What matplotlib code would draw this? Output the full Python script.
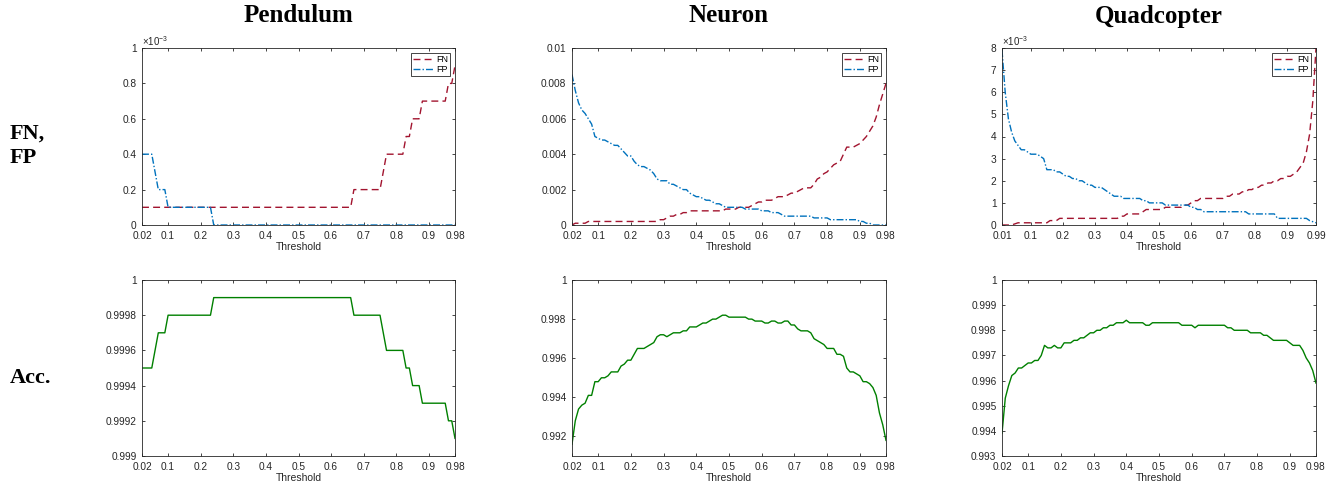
import numpy as np
import matplotlib
matplotlib.use('Agg')
import matplotlib.pyplot as plt
from matplotlib.ticker import FuncFormatter

plt.rcParams['font.family'] = ['Liberation Sans', 'DejaVu Sans']
plt.rcParams['mathtext.default'] = 'regular'

# threshold grids
thr = np.round(np.arange(2, 99) / 100, 2)            # 0.02 .. 0.98
thr_quad_top = np.round(np.arange(1, 100) / 100, 2)  # 0.01 .. 0.99

# ---- Pendulum (FN / FP in units of 1e-3) ----
pend_fn = [0.1] * 65 + [0.2] * 9 + [0.3] + [0.4] * 6 + [0.5] * 2 + [0.6] * 3 + [0.7] * 8 + [0.8] * 2 + [0.9]
pend_fp = [0.4] * 4 + [0.3] + [0.2] * 3 + [0.1] * 14 + [0.0] * 75
pend_acc = ([0.9995] * 4 + [0.9996] + [0.9997] * 3 + [0.9998] * 14 + [0.9999] * 43 + [0.9998] * 9
            + [0.9997] + [0.9996] * 6 + [0.9995] * 2 + [0.9994] * 3 + [0.9993] * 8 + [0.9992] * 2 + [0.9991])

# ---- Neuron ----
neur_fn = [0.0, 0.1, 0.1, 0.1, 0.1, 0.2, 0.2, 0.2, 0.2, 0.2,
           0.2, 0.2, 0.2, 0.2, 0.2, 0.2, 0.2, 0.2, 0.2, 0.2,
           0.2, 0.2, 0.2, 0.2, 0.2, 0.2, 0.2, 0.3, 0.3, 0.4,
           0.5, 0.5, 0.6, 0.6, 0.7, 0.7, 0.8, 0.8, 0.8, 0.8,
           0.8, 0.8, 0.8, 0.8, 0.8, 0.8, 0.8, 0.9, 0.9, 0.9,
           0.9, 1.0, 1.0, 1.0, 1.0, 1.1, 1.2, 1.3, 1.3, 1.4,
           1.4, 1.4, 1.5, 1.6, 1.6, 1.6, 1.7, 1.8, 1.8, 1.9,
           2.0, 2.1, 2.1, 2.1, 2.3, 2.6, 2.7, 2.9, 3.0, 3.2,
           3.4, 3.5, 3.6, 4.0, 4.4, 4.4, 4.4, 4.5, 4.6, 4.8,
           5.0, 5.3, 5.6, 6.1, 6.8, 7.4, 8.0]
neur_fp = [8.5, 7.6, 6.9, 6.5, 6.3, 6.0, 5.7, 5.0, 4.9, 4.8,
           4.8, 4.7, 4.6, 4.5, 4.5, 4.3, 4.1, 3.9, 3.9, 3.6,
           3.4, 3.3, 3.3, 3.2, 3.1, 2.9, 2.6, 2.5, 2.5, 2.5,
           2.3, 2.3, 2.2, 2.1, 2.0, 2.0, 1.8, 1.7, 1.6, 1.6,
           1.5, 1.4, 1.4, 1.3, 1.2, 1.2, 1.1, 1.0, 1.0, 1.0,
           1.0, 1.0, 1.0, 0.9, 0.9, 0.9, 0.9, 0.9, 0.8, 0.8,
           0.8, 0.7, 0.7, 0.7, 0.6, 0.5, 0.5, 0.5, 0.5, 0.5,
           0.5, 0.5, 0.5, 0.5, 0.4, 0.4, 0.4, 0.4, 0.4, 0.3,
           0.3, 0.3, 0.3, 0.3, 0.3, 0.3, 0.3, 0.3, 0.2, 0.2,
           0.1, 0.1, 0.0, 0.0, 0.0, 0.0, 0.0]
neur_acc = [0.9916, 0.9928, 0.9934, 0.9936, 0.9937, 0.9941, 0.9941, 0.9948, 0.9948, 0.9950,
            0.9950, 0.9951, 0.9953, 0.9953, 0.9953, 0.9956, 0.9957, 0.9959, 0.9959, 0.9962,
            0.9965, 0.9965, 0.9965, 0.9966, 0.9967, 0.9968, 0.9971, 0.9972, 0.9972, 0.9971,
            0.9972, 0.9973, 0.9973, 0.9973, 0.9974, 0.9974, 0.9976, 0.9976, 0.9976, 0.9977,
            0.9978, 0.9978, 0.9979, 0.9980, 0.9980, 0.9981, 0.9982, 0.9982, 0.9981, 0.9981,
            0.9981, 0.9981, 0.9981, 0.9981, 0.9980, 0.9980, 0.9979, 0.9979, 0.9979, 0.9978,
            0.9978, 0.9979, 0.9979, 0.9978, 0.9978, 0.9979, 0.9979, 0.9977, 0.9977, 0.9975,
            0.9974, 0.9974, 0.9974, 0.9973, 0.9970, 0.9969, 0.9968, 0.9967, 0.9965, 0.9965,
            0.9965, 0.9962, 0.9962, 0.9961, 0.9955, 0.9953, 0.9953, 0.9952, 0.9951, 0.9948,
            0.9948, 0.9947, 0.9945, 0.9941, 0.9932, 0.9926, 0.9918]

# ---- Quadcopter (FN / FP over 0.01 .. 0.99) ----
quad_fn = [0.0, 0.0, 0.0, 0.0, 0.05, 0.1, 0.1, 0.1, 0.1, 0.1,
           0.1, 0.1, 0.1, 0.1, 0.1, 0.2, 0.2, 0.2, 0.3, 0.3,
           0.3, 0.3, 0.3, 0.3, 0.3, 0.3, 0.3, 0.3, 0.3, 0.3,
           0.3, 0.3, 0.3, 0.3, 0.3, 0.3, 0.3, 0.4, 0.4, 0.5,
           0.5, 0.5, 0.5, 0.5, 0.6, 0.7, 0.7, 0.7, 0.7, 0.7,
           0.7, 0.8, 0.8, 0.8, 0.8, 0.8, 0.8, 0.9, 0.9, 1.0,
           1.1, 1.1, 1.2, 1.2, 1.2, 1.2, 1.2, 1.2, 1.2, 1.2,
           1.3, 1.3, 1.4, 1.4, 1.4, 1.5, 1.5, 1.6, 1.6, 1.7,
           1.7, 1.8, 1.8, 1.9, 1.9, 2.0, 2.0, 2.1, 2.1, 2.2,
           2.2, 2.3, 2.4, 2.6, 2.8, 3.3, 4.1, 5.6, 8.0]
quad_fp = [7.9, 6.0, 4.8, 4.2, 3.8, 3.6, 3.4, 3.4, 3.3, 3.2,
           3.2, 3.2, 3.1, 3.0, 2.5, 2.5, 2.5, 2.4, 2.4, 2.3,
           2.2, 2.2, 2.1, 2.1, 2.0, 2.0, 1.9, 1.8, 1.8, 1.7,
           1.7, 1.7, 1.6, 1.5, 1.4, 1.3, 1.3, 1.3, 1.2, 1.2,
           1.2, 1.2, 1.2, 1.2, 1.1, 1.1, 1.0, 1.0, 1.0, 1.0,
           1.0, 0.9, 0.9, 0.9, 0.9, 0.9, 0.9, 0.9, 0.9, 0.8,
           0.8, 0.7, 0.7, 0.6, 0.6, 0.6, 0.6, 0.6, 0.6, 0.6,
           0.6, 0.6, 0.6, 0.6, 0.6, 0.6, 0.6, 0.5, 0.5, 0.5,
           0.5, 0.5, 0.5, 0.5, 0.5, 0.5, 0.3, 0.3, 0.3, 0.3,
           0.3, 0.3, 0.3, 0.3, 0.3, 0.3, 0.2, 0.15, 0.1]
quad_acc = [0.9939, 0.9953, 0.9958, 0.9962, 0.9963, 0.9965, 0.9965, 0.9966, 0.9967, 0.9967,
            0.9968, 0.9968, 0.9970, 0.9974, 0.9973, 0.9973, 0.9974, 0.9973, 0.9973, 0.9975,
            0.9975, 0.9975, 0.9976, 0.9976, 0.9977, 0.9977, 0.9978, 0.9979, 0.9979, 0.9980,
            0.9980, 0.9981, 0.9981, 0.9982, 0.9982, 0.9983, 0.9983, 0.9983, 0.9984, 0.9983,
            0.9983, 0.9983, 0.9983, 0.9983, 0.9982, 0.9982, 0.9983, 0.9983, 0.9983, 0.9983,
            0.9983, 0.9983, 0.9983, 0.9983, 0.9983, 0.9982, 0.9982, 0.9982, 0.9982, 0.9981,
            0.9982, 0.9982, 0.9982, 0.9982, 0.9982, 0.9982, 0.9982, 0.9982, 0.9982, 0.9981,
            0.9981, 0.9980, 0.9980, 0.9980, 0.9980, 0.9980, 0.9979, 0.9979, 0.9979, 0.9979,
            0.9978, 0.9978, 0.9977, 0.9976, 0.9976, 0.9976, 0.9976, 0.9976, 0.9975, 0.9974,
            0.9974, 0.9974, 0.9972, 0.9969, 0.9967, 0.9964, 0.9959]

titles = ['Pendulum', 'Neuron', 'Quadcopter']
xticks_std = [0.02, 0.1, 0.2, 0.3, 0.4, 0.5, 0.6, 0.7, 0.8, 0.9, 0.98]
xticks_quad = [0.01, 0.1, 0.2, 0.3, 0.4, 0.5, 0.6, 0.7, 0.8, 0.9, 0.99]

FN_COLOR = '#A2142F'
FP_COLOR = '#0072BD'
ACC_COLOR = '#008000'
INK = '#262626'

W, H = 1342, 491
fig = plt.figure(figsize=(W / 100, H / 100), dpi=100)


def px_axes(left, top, right, bottom):
    return fig.add_axes([left / W, 1 - bottom / H, (right - left) / W, (bottom - top) / H])


def style(ax, xticks, scaled=False):
    ax.set_xticks(xticks)
    ax.xaxis.set_major_formatter(FuncFormatter(lambda v, p: f'{v:g}'))
    if scaled:
        ax.yaxis.set_major_formatter(FuncFormatter(lambda v, p: f'{v * 1e3:g}'))
        ax.text(0.0, 1.0, r'$\times10^{-3}$', transform=ax.transAxes, ha='left', va='bottom',
                fontsize=7, color=INK)
    else:
        ax.yaxis.set_major_formatter(FuncFormatter(lambda v, p: f'{v:g}'))
    ax.tick_params(direction='in', length=2.5, width=0.6, top=True, right=True,
                   labelsize=7.3, colors=INK)
    ax.tick_params(axis='x', pad=4)
    ax.tick_params(axis='y', pad=4)
    for s in ax.spines.values():
        s.set_color(INK)
        s.set_linewidth(0.6)
    ax.set_xlabel('Threshold', fontsize=7.5, color=INK, labelpad=1)


lefts = [142, 572, 1002]
rights = [455, 886, 1316]

top_data = [
    (thr, pend_fn, pend_fp, (0.02, 0.98), (0, 1e-3), np.arange(0, 1.01e-3, 0.2e-3), xticks_std, True),
    (thr, neur_fn, neur_fp, (0.02, 0.98), (0, 0.01), np.arange(0, 0.0101, 0.002), xticks_std, False),
    (thr_quad_top, quad_fn, quad_fp, (0.01, 0.99), (0, 8e-3), np.arange(0, 8.01e-3, 1e-3), xticks_quad, True),
]
bot_data = [
    (pend_acc, (0.999, 1.0), np.arange(0.999, 1.00001, 0.0002)),
    (neur_acc, (0.991, 1.0), np.arange(0.992, 1.00001, 0.002)),
    (quad_acc, (0.993, 1.0), np.arange(0.993, 1.00001, 0.001)),
]

for i in range(3):
    x, fn, fp, xl, yl, yt, xt, scaled = top_data[i]
    ax = px_axes(lefts[i], 48, rights[i], 225)
    ax.plot(x, np.array(fn) * 1e-3, color=FN_COLOR, lw=1.0, dashes=(5, 3), label='FN')
    ax.plot(x, np.array(fp) * 1e-3, color=FP_COLOR, lw=1.0, dashes=(5, 1.5, 1, 1.5), label='FP')
    ax.set_xlim(*xl)
    ax.set_ylim(*yl)
    ax.set_yticks(yt)
    style(ax, xt, scaled)
    leg = ax.legend(loc='upper right', fontsize=6.5, frameon=True, fancybox=False,
                    framealpha=1, edgecolor=INK, borderpad=0.25, handlelength=2.2,
                    handletextpad=0.4, labelspacing=0.15, borderaxespad=0.5)
    leg.get_frame().set_linewidth(0.6)
    fig.text((lefts[i] + rights[i]) / 2 / W, 1 - 16 / H, titles[i], ha='center', va='center',
             fontsize=18, fontweight='bold', family='Liberation Serif')

    acc, yl2, yt2 = bot_data[i]
    ax2 = px_axes(lefts[i], 280, rights[i], 456)
    ax2.plot(thr, acc, color=ACC_COLOR, lw=1.0)
    ax2.set_xlim(0.02, 0.98)
    ax2.set_ylim(*yl2)
    ax2.set_yticks(yt2)
    style(ax2, xticks_std)

fig.text(10 / W, 1 - 146 / H, 'FN,\nFP', ha='left', va='center', fontsize=16,
         fontweight='bold', family='Liberation Serif', linespacing=1.3)
fig.text(10 / W, 1 - 378 / H, 'Acc.', ha='left', va='center', fontsize=16,
         fontweight='bold', family='Liberation Serif')

fig.savefig('out.png', dpi=100)
